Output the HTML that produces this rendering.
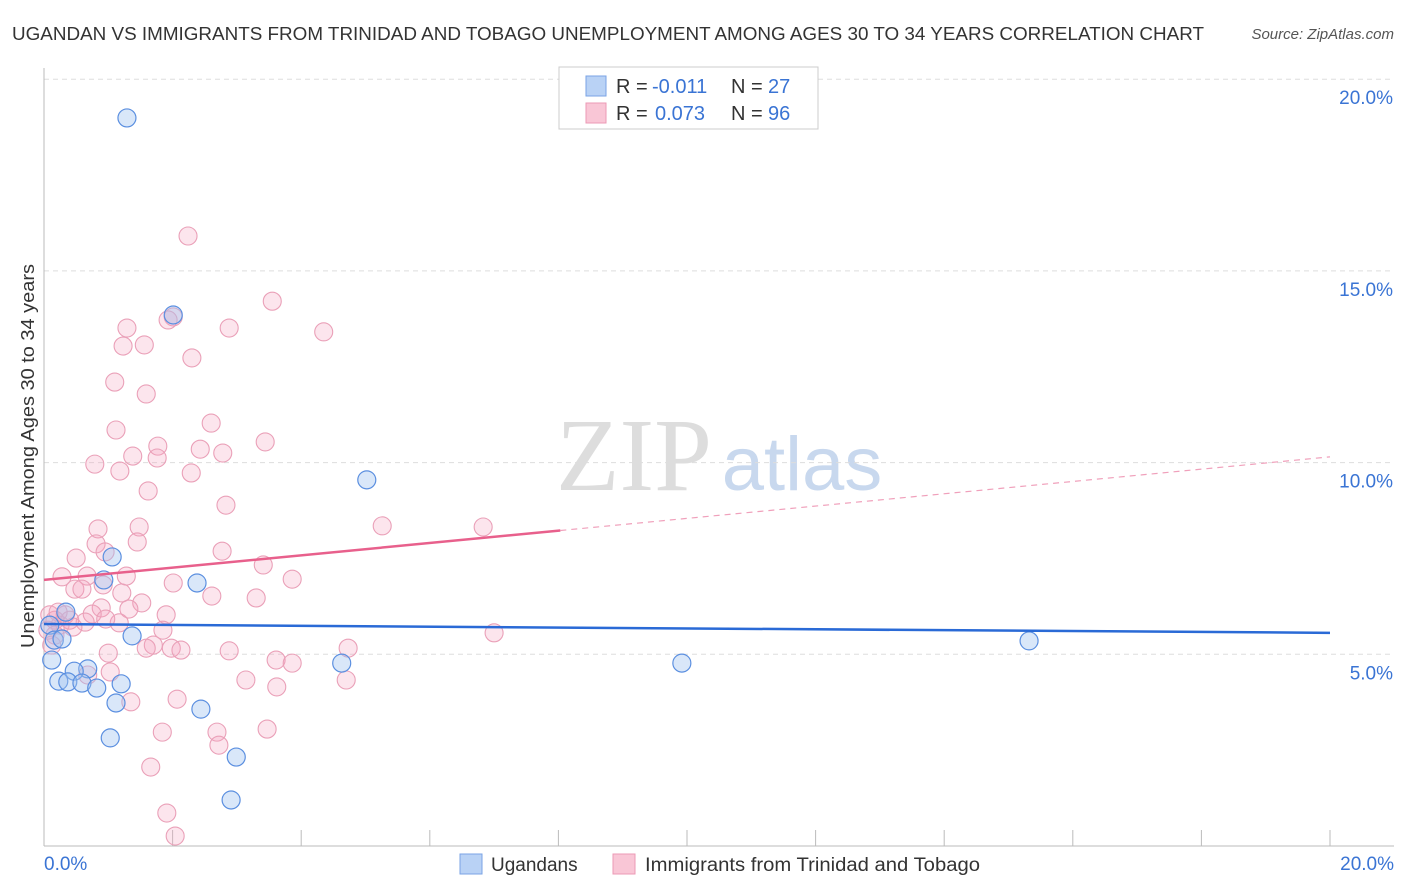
<!DOCTYPE html>
<html><head><meta charset="utf-8"><style>
body{margin:0;background:#fff;font-family:"Liberation Sans",sans-serif;}
#wrap{position:relative;width:1406px;height:892px;overflow:hidden;}
</style></head><body>
<div id="wrap">
<svg id="svg" width="1406" height="892" xmlns="http://www.w3.org/2000/svg">
<text x="12" y="40" font-size="18" fill="#333" textLength="1192" lengthAdjust="spacingAndGlyphs">UGANDAN VS IMMIGRANTS FROM TRINIDAD AND TOBAGO UNEMPLOYMENT AMONG AGES 30 TO 34 YEARS CORRELATION CHART</text>
<text x="1394" y="39" font-size="15" fill="#555" font-style="italic" text-anchor="end">Source: ZipAtlas.com</text>
<text x="0" y="0" transform="translate(34,456) rotate(-90)" font-size="18" fill="#333" text-anchor="middle" textLength="384" lengthAdjust="spacingAndGlyphs">Unemployment Among Ages 30 to 34 years</text>
<g><text x="634" y="490" font-size="104" font-family="Liberation Serif,serif" fill="#ddd" text-anchor="middle">ZIP</text><text x="802" y="490" font-size="76" fill="#c8d8ee" text-anchor="middle">atlas</text></g>
<g id="grid"></g><g id="axes"></g><g id="pts"></g><g id="lines"></g>
<g>
<rect x="559" y="67" width="259" height="62" fill="#fff" stroke="#ccc"/>
<rect x="586" y="76" width="20" height="20" fill="#b9d2f5" stroke="#7aa3e5"/>
<rect x="586" y="103" width="20" height="20" fill="#f9c6d6" stroke="#ec9ab5"/>
<text x="616" y="93" font-size="20" fill="#333">R =</text>
<text x="652" y="93" font-size="20" fill="#3a74d4">-0.011</text>
<text x="731" y="93" font-size="20" fill="#333">N =</text>
<text x="768" y="93" font-size="20" fill="#3a74d4">27</text>
<text x="616" y="120" font-size="20" fill="#333">R =</text>
<text x="655" y="120" font-size="20" fill="#3a74d4">0.073</text>
<text x="731" y="120" font-size="20" fill="#333">N =</text>
<text x="768" y="120" font-size="20" fill="#3a74d4">96</text>
</g>
<g>
<rect x="460" y="854" width="22" height="20" fill="#b9d2f5" stroke="#7aa3e5"/>
<text x="491" y="871" font-size="19" fill="#333">Ugandans</text>
<rect x="613" y="854" width="22" height="20" fill="#f9c6d6" stroke="#ec9ab5"/>
<text x="645" y="871" font-size="19" fill="#333" textLength="335" lengthAdjust="spacingAndGlyphs">Immigrants from Trinidad and Tobago</text>
</g>
</svg>
</div>
<script>
const yTicks=[5,10,15,20];
const xTickLabels=["0.0%","20.0%"];
const blueX=[1.29,2.01,5.02,1.06,2.38,0.93,1.37,15.32,9.92,4.63,0.12,0.68,0.47,0.23,0.37,0.59,0.82,1.20,1.12,2.44,1.03,2.99,2.91,0.09,0.16,0.28,0.34];
const blueY=[18.99,13.85,9.55,7.54,6.86,6.94,5.48,5.35,4.77,4.77,4.85,4.62,4.56,4.30,4.28,4.25,4.12,4.23,3.73,3.57,2.82,2.32,1.20,5.76,5.37,5.40,6.10];
const pinkX=[0.84,1.48,0.81,1.45,2.83,0.50,0.95,2.77,3.41,3.86,0.28,0.67,1.28,0.48,0.59,0.92,2.01,1.21,2.61,3.30,1.52,1.32,0.89,1.90,0.75,0.64,0.45,1.17,0.96,1.85,1.70,1.59,1.98,2.13,2.88,1.00,4.73,3.61,3.86,4.70,1.03,0.68,3.14,3.62,1.35,2.07,1.84,2.69,2.72,3.47,1.66,1.91,2.04,0.09,0.17,0.25,0.06,0.17,0.33,0.40,0.12,0.22,2.24,3.55,2.01,1.93,1.29,2.88,4.35,1.23,1.56,2.30,1.10,1.59,1.12,2.60,1.77,1.76,2.43,2.78,3.44,1.38,0.79,1.18,2.29,1.62,6.83,5.26,7.00];
const pinkY=[8.27,8.32,7.88,7.93,8.89,7.51,7.67,7.69,7.33,6.96,7.02,7.04,7.04,6.70,6.70,6.81,6.86,6.60,6.52,6.47,6.34,6.18,6.21,6.03,6.05,5.84,5.71,5.82,5.92,5.63,5.24,5.16,5.16,5.11,5.09,5.03,5.16,4.85,4.77,4.33,4.54,4.46,4.33,4.15,3.76,3.83,2.97,2.97,2.63,3.05,2.06,0.86,0.26,6.03,5.89,5.76,5.63,5.50,6.03,5.89,5.24,6.10,15.91,14.21,13.80,13.72,13.51,13.51,13.41,13.04,13.07,12.73,12.10,11.79,10.85,11.03,10.43,10.12,10.35,10.25,10.54,10.17,9.96,9.78,9.73,9.26,8.32,8.35,5.56];
const blueLine=[5.79,5.56];
const pinkLine=[6.94,10.15];
const pinkSolidEnd=8.03;
const NS="http://www.w3.org/2000/svg";
const X=v=>44+v*64.3, Y=v=>846-v*38.34;
function mk(t,a,p){const e=document.createElementNS(NS,t);for(const k in a)e.setAttribute(k,a[k]);p.appendChild(e);return e;}
const grid=document.getElementById('grid'),axes=document.getElementById('axes'),pts=document.getElementById('pts'),lines=document.getElementById('lines');
yTicks.forEach(t=>{const l=mk('line',{x1:44,x2:1394,y1:Y(t),y2:Y(t),stroke:'#ddd','stroke-dasharray':'5,4'},grid);


const tx=mk('text',{x:1393,y:Y(t)+25,'font-size':19,fill:'#3a74d4','text-anchor':'end'},axes);tx.textContent=t.toFixed(1)+'%';

});
mk('line',{x1:44,x2:44,y1:68,y2:846,stroke:'#bbb'},axes);
mk('line',{x1:44,x2:1394,y1:846,y2:846,stroke:'#bbb'},axes);
for(let i=0;i<=10;i++){const t=mk('line',{x1:X(i*2),x2:X(i*2),y1:830,y2:846,stroke:'#bbb'},axes);

}
const xl0=mk('text',{x:44,y:870,'font-size':19,fill:'#3a74d4'},axes);xl0.textContent=xTickLabels[0];


const xl1=mk('text',{x:1394,y:870,'font-size':19,fill:'#3a74d4','text-anchor':'end'},axes);xl1.textContent=xTickLabels[1];


pinkX.forEach((v,i)=>{const c=mk('circle',{cx:X(v),cy:Y(pinkY[i]),r:9,fill:'rgba(244,160,190,0.28)',stroke:'#eaa0b8','stroke-width':1.1},pts);

});
blueX.forEach((v,i)=>{const c=mk('circle',{cx:X(v),cy:Y(blueY[i]),r:9,fill:'rgba(160,195,240,0.4)',stroke:'#5b8fe0','stroke-width':1.2},pts);

});
const py=x=>pinkLine[0]+(pinkLine[1]-pinkLine[0])*x/20;
const bl=mk('line',{x1:X(0),x2:X(20),y1:Y(blueLine[0]),y2:Y(blueLine[1]),stroke:'#2a6ad6','stroke-width':2.5},lines);


const pl=mk('line',{x1:X(0),x2:X(pinkSolidEnd),y1:Y(py(0)),y2:Y(py(pinkSolidEnd)),stroke:'#e8608c','stroke-width':2.5},lines);


const pd=mk('line',{x1:X(pinkSolidEnd),x2:X(20),y1:Y(py(pinkSolidEnd)),y2:Y(py(20)),stroke:'#f0a0bb','stroke-width':1.2,'stroke-dasharray':'6,5'},lines);


</script>
</body></html>
